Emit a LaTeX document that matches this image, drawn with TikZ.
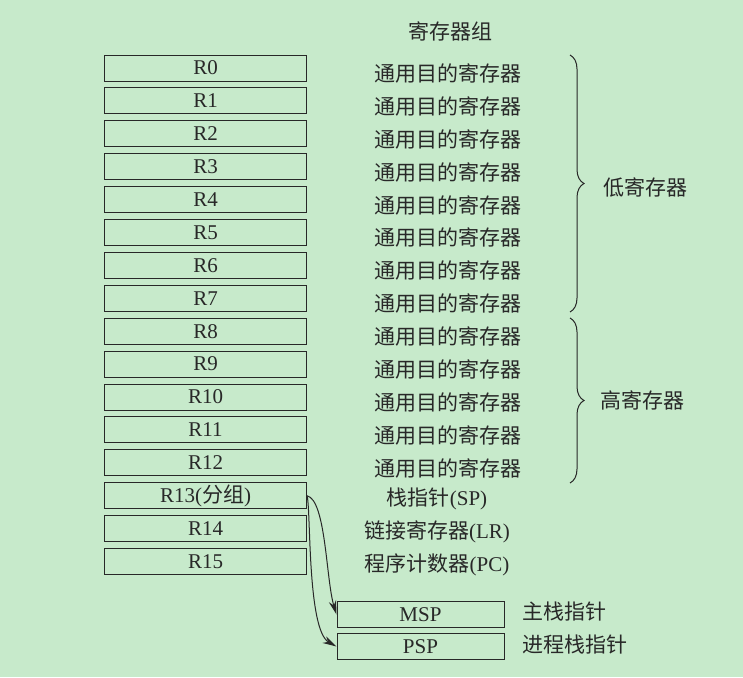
\documentclass[tikz,border=0pt]{standalone}
\usepackage{fontspec}
\setmainfont{Liberation Serif}
\newfontfamily\cjk{Noto Sans CJK SC}
\usetikzlibrary{arrows.meta,decorations.pathreplacing}
\definecolor{bggreen}{RGB}{199,234,203}
\definecolor{ink}{RGB}{40,40,40}

\begin{document}
\begin{tikzpicture}[x=1pt, y=-1pt,
  reg/.style={draw=ink, line width=1pt, minimum width=202pt, minimum height=26pt, inner sep=0pt, text=ink, font=\fontsize{21}{25}\selectfont},
  lbl/.style={inner sep=0pt, text=ink, font=\fontsize{21}{25}\selectfont\cjk},
  brc/.style={draw=ink, line width=1pt, decorate, decoration={brace, amplitude=14pt}},
  tip/.style={draw=ink, line width=1pt, -{Stealth[length=14pt, width=7.5pt]}}]
  \fill [bggreen] (0,0) rectangle (743,677);
  \useasboundingbox (0,0) rectangle (743,677);
  \node [lbl] (title) at (450,31) {寄存器组};
  % general purpose registers
  \foreach \i in {0,...,12} {
    \node [reg] (r\i) at (205.5, 68+32.9*\i) {R\i};
    \node [lbl] (g\i) at (448, 73.5+32.9*\i) {通用目的寄存器};
  }
  \node [reg] (r13) at (205.5,495.7) {R13({\cjk 分组})};
  \node [reg] (r14) at (205.5,528.6) {R14};
  \node [reg] (r15) at (205.5,561.5) {R15};
  \node [lbl] (sp) at (437,499) {栈指针{\rmfamily (SP)}};
  \node [lbl] (lr) at (437,532) {链接寄存器{\rmfamily (LR)}};
  \node [lbl] (pc) at (437,565) {程序计数器{\rmfamily (PC)}};
  % banked stack pointers
  \node [reg, minimum width=167pt] (msp) at (420.5,614.5) {MSP};
  \node [reg, minimum width=167pt] (psp) at (420.5,646.5) {PSP};
  \node [lbl, anchor=west] (mspl) at (522,612) {主栈指针};
  \node [lbl, anchor=west] (pspl) at (522,645) {进程栈指针};
  \draw [tip] (r13.east) .. controls (326,500) and (326,580) .. (msp.west);
  \draw [tip] (r13.east) .. controls (311,508) and (307,630) .. (psp.west);
  % low and high groups
  \coordinate (lowtop) at (570,55);
  \coordinate (lowbot) at (570,312);
  \coordinate (hightop) at (570,318);
  \coordinate (highbot) at (570,483);
  \draw [brc] (lowtop) -- (lowbot);
  \draw [brc] (hightop) -- (highbot);
  \node [lbl, anchor=west] (low) at (603,187) {低寄存器};
  \node [lbl, anchor=west] (high) at (600,400) {高寄存器};
\end{tikzpicture}
\end{document}
